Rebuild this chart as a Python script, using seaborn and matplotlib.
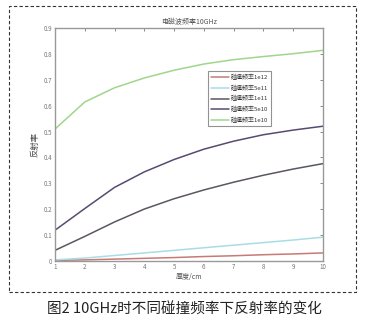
import matplotlib
matplotlib.use("Agg")
import matplotlib.pyplot as plt
import matplotlib.patches as mpatches
import seaborn as sns
import pandas as pd

sns.set_style("white")
plt.rcParams['font.family'] = ['Noto Sans CJK SC', 'DejaVu Sans']
plt.rcParams['axes.unicode_minus'] = False

x_vals = [1, 2, 3, 4, 5, 6, 7, 8, 9, 10]
labels = ["碰撞频率1e12", "碰撞频率5e11", "碰撞频率1e11", "碰撞频率5e10", "碰撞频率1e10"]
r_1e12 = [0.001, 0.003, 0.006, 0.009, 0.012, 0.016, 0.019, 0.023, 0.026, 0.030]
r_5e11 = [0.003, 0.010, 0.020, 0.030, 0.040, 0.050, 0.060, 0.070, 0.080, 0.091]
r_1e11 = [0.040, 0.094, 0.150, 0.200, 0.240, 0.274, 0.304, 0.331, 0.355, 0.376]
r_5e10 = [0.118, 0.202, 0.284, 0.344, 0.392, 0.432, 0.463, 0.488, 0.506, 0.521]
r_1e10 = [0.510, 0.615, 0.670, 0.708, 0.738, 0.762, 0.779, 0.791, 0.802, 0.815]
colors = ["#c87a74", "#a8dde6", "#5d5560", "#574a70", "#9fd68c"]
title = "电磁波频率10GHz"
xlabel = "厚度/cm"
ylabel = "反射率"
caption = "图2 10GHz时不同碰撞频率下反射率的变化"

series = [r_1e12, r_5e11, r_1e11, r_5e10, r_1e10]
rows = []
for lab, ys in zip(labels, series):
    for xv, yv in zip(x_vals, ys):
        rows.append({"x": xv, "y": yv, "name": lab})
df = pd.DataFrame(rows)

fig = plt.figure(figsize=(3.68, 3.23), dpi=100)
ax = fig.add_axes([0.1495, 0.193, 0.728, 0.719])
sns.lineplot(data=df, x="x", y="y", hue="name", hue_order=labels,
             palette=colors, ax=ax, linewidth=1.1)

ax.set_xlim(1, 10)
ax.set_ylim(0, 0.9)
ax.set_xticks(range(1, 11))
ax.set_yticks([0, 0.1, 0.2, 0.3, 0.4, 0.5, 0.6, 0.7, 0.8, 0.9])
ax.set_yticklabels(["0", "0.1", "0.2", "0.3", "0.4", "0.5", "0.6", "0.7", "0.8", "0.9"])
ax.tick_params(direction='in', length=2.5, width=0.6, labelsize=4.5,
               colors='#777777', top=True, right=True, pad=2)
for s in ax.spines.values():
    s.set_color('#999999')
    s.set_linewidth(1.0)
ax.set_title(title, fontsize=5, color='#555555', pad=3)
ax.set_xlabel(xlabel, fontsize=5, color='#555555', labelpad=1)
ax.set_ylabel(ylabel, fontsize=6, color='#444444', labelpad=3)

leg = ax.legend(loc='upper left', bbox_to_anchor=(0.571, 0.816), fontsize=4.3,
                frameon=True, fancybox=False, edgecolor='#777777',
                handlelength=3.0, borderpad=0.5, labelspacing=0.75,
                handletextpad=0.3, borderaxespad=0)
leg.get_frame().set_linewidth(0.8)
for t in leg.get_texts():
    t.set_color('#333333')

rect = mpatches.Rectangle((0.0245, 0.096), 0.943, 0.885, transform=fig.transFigure,
                          fill=False, edgecolor='#333333', linestyle=(0, (3, 2)),
                          linewidth=0.8)
fig.patches.append(rect)

fig.text(0.5, 0.04, caption, ha='center', va='center', fontsize=10.5, color='#222222')

fig.savefig("out.png", dpi=100)
